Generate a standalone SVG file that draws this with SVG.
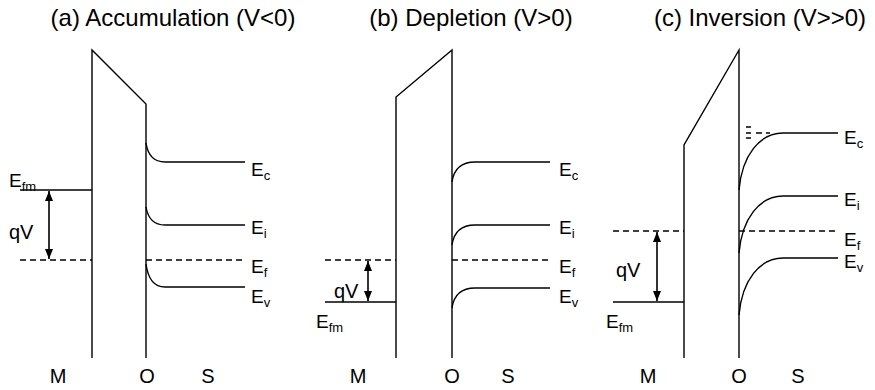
<svg xmlns="http://www.w3.org/2000/svg" width="875" height="390" viewBox="0 0 875 390">
<defs>
<marker id="ah" viewBox="0 0 10 8" refX="10" refY="4" markerWidth="10" markerHeight="8" orient="auto-start-reverse" markerUnits="userSpaceOnUse">
<path d="M0,0 L10,4 L0,8 Z" fill="#000"/>
</marker>
</defs>
<style>
text{font-family:"Liberation Sans",Arial,sans-serif;fill:#000}
.t{font-size:24px;text-anchor:middle}
.l{font-size:19px}
.s{font-size:13px}
.ax{font-size:20px;text-anchor:middle}
.ln{fill:none;stroke:#000;stroke-width:1.4}
.ds{fill:none;stroke:#000;stroke-width:1.4;stroke-dasharray:6 4}
.ar{fill:none;stroke:#000;stroke-width:1.6;marker-start:url(#ah);marker-end:url(#ah)}
</style>
<rect width="875" height="390" fill="#fff"/>

<g id="panel-a">
<text class="t" x="173" y="26">(a) Accumulation (V&lt;0)</text>
<g id="a-oxide"><path class="ln" d="M92,358 V50 L146,104 V358"/></g>
<g id="a-metal">
<path class="ln" d="M20,190 H92"/>
<path class="ds" d="M20,260 H92"/>
<text class="l" x="9" y="187">E<tspan class="s" dy="4">fm</tspan></text>
</g>
<g id="a-semi">
<path class="ln" d="M146,143 C148,156 154,162 165,162 H245"/>
<path class="ln" d="M146,207 C148,219 154,225 165,225 H245"/>
<path class="ds" d="M146,260 H245"/>
<path class="ln" d="M146,264 C148,279 154,287 165,287 H245"/>
<text class="l" x="251" y="176">E<tspan class="s" dy="4">c</tspan></text>
<text class="l" x="251" y="234">E<tspan class="s" dy="4">i</tspan></text>
<text class="l" x="251" y="273">E<tspan class="s" dy="4">f</tspan></text>
<text class="l" x="251" y="303">E<tspan class="s" dy="4">v</tspan></text>
</g>
<text class="l" x="9" y="239" style="font-size:20px">qV</text>
<text class="ax" x="58" y="383">M</text>
<text class="ax" x="147" y="383">O</text>
<text class="ax" x="208" y="383">S</text>
</g>

<g id="panel-b">
<text class="t" x="471" y="26">(b) Depletion (V&gt;0)</text>
<g id="b-oxide"><path class="ln" d="M396,358 V97 L452,50 V358"/></g>
<g id="b-metal">
<path class="ds" d="M325,260 H396"/>
<path class="ln" d="M325,302 H396"/>
<text class="l" x="316" y="328">E<tspan class="s" dy="4">fm</tspan></text>
</g>
<g id="b-semi">
<path class="ln" d="M452,182 C454,168 462,162 475,162 H550"/>
<path class="ln" d="M452,245 C454,231 462,225 475,225 H550"/>
<path class="ds" d="M452,260 H550"/>
<path class="ln" d="M452,308 C454,294 462,288 475,288 H550"/>
<text class="l" x="559" y="176">E<tspan class="s" dy="4">c</tspan></text>
<text class="l" x="559" y="234">E<tspan class="s" dy="4">i</tspan></text>
<text class="l" x="559" y="273">E<tspan class="s" dy="4">f</tspan></text>
<text class="l" x="559" y="303">E<tspan class="s" dy="4">v</tspan></text>
</g>
<text class="l" x="334" y="298" style="font-size:20px">qV</text>
<text class="ax" x="358" y="383">M</text>
<text class="ax" x="452" y="383">O</text>
<text class="ax" x="508" y="383">S</text>
</g>

<g id="panel-c">
<text class="t" x="760" y="26">(c) Inversion (V&gt;&gt;0)</text>
<g id="c-oxide"><path class="ln" d="M684,358 V145 L739,50 V358"/></g>
<g id="c-metal">
<path class="ds" d="M613,231 H684"/>
<path class="ln" d="M613,302 H684"/>
<text class="l" x="606" y="328">E<tspan class="s" dy="4">fm</tspan></text>
</g>
<g id="c-semi">
<path class="ln" d="M739,190 C742,155 760,133 783,133 H838"/>
<path class="ln" d="M739,253 C742,218 760,196 783,196 H838"/>
<path class="ds" d="M739,231 H838"/>
<path class="ln" d="M739,315 C742,280 760,258 783,258 H838"/>
<path class="ln" d="M746,127 H751 M746,133 H751 M746,138 H751 M756,133 H762 M766,133 H770" stroke-width="1"/>
<text class="l" x="844" y="144">E<tspan class="s" dy="4">c</tspan></text>
<text class="l" x="844" y="206">E<tspan class="s" dy="4">i</tspan></text>
<text class="l" x="844" y="246">E<tspan class="s" dy="4">f</tspan></text>
<text class="l" x="844" y="268">E<tspan class="s" dy="4">v</tspan></text>
</g>
<text class="l" x="616" y="277" style="font-size:20px">qV</text>
<text class="ax" x="648" y="383">M</text>
<text class="ax" x="739" y="383">O</text>
<text class="ax" x="798" y="383">S</text>
</g>

<g id="connectors">
<path class="ar" d="M49,191 V259"/>
<path class="ar" d="M368,261 V301"/>
<path class="ar" d="M657,232 V301"/>
</g>
</svg>
